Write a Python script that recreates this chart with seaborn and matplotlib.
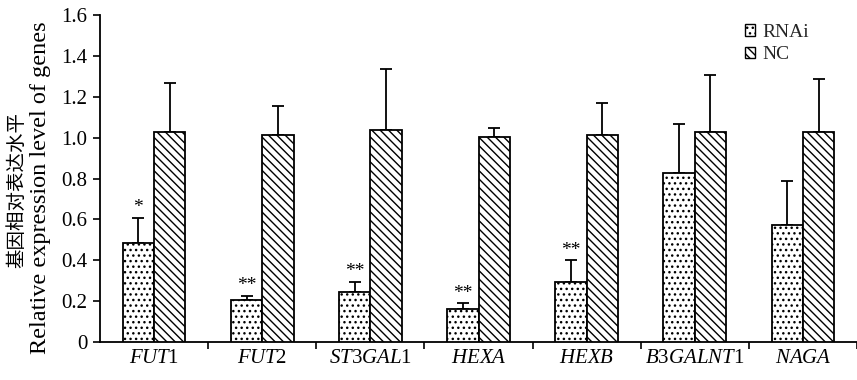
import numpy as np
import pandas as pd
import matplotlib
matplotlib.use("Agg")
import matplotlib.pyplot as plt
from matplotlib.container import BarContainer
import seaborn as sns

genes = ["FUT1", "FUT2", "ST3GAL1", "HEXA", "HEXB", "B3GALNT1", "NAGA"]
gene_labels = [r"$\mathit{FUT}$1", r"$\mathit{FUT}$2", r"$\mathit{ST3GAL}$1",
               r"$\mathit{HEXA}$", r"$\mathit{HEXB}$", r"$\mathit{B3GALNT}$1",
               r"$\mathit{NAGA}$"]
groups = ["RNAi", "NC"]
rnai_mean = [0.485, 0.205, 0.245, 0.160, 0.294, 0.827, 0.572]
rnai_err = [0.122, 0.020, 0.049, 0.030, 0.106, 0.240, 0.216]
nc_mean = [1.027, 1.013, 1.035, 1.003, 1.013, 1.027, 1.027]
nc_err = [0.240, 0.142, 0.300, 0.044, 0.157, 0.279, 0.260]
signif = ["*", "**", "**", "**", "**", "", ""]
yticks = [0, 0.2, 0.4, 0.6, 0.8, 1.0, 1.2, 1.4, 1.6]
ytick_labels = ["0", "0.2", "0.4", "0.6", "0.8", "1.0", "1.2", "1.4", "1.6"]
ylabel_cn = "基因相对表达水平"
ylabel_en = "Relative expression level of genes"

sns.set_theme(style="white")
plt.rcParams["font.family"] = ["Liberation Serif", "Noto Sans CJK SC", "DejaVu Sans"]
plt.rcParams["mathtext.fontset"] = "custom"
plt.rcParams["mathtext.rm"] = "Liberation Serif"
plt.rcParams["mathtext.it"] = "Liberation Serif:italic"
plt.rcParams["hatch.linewidth"] = 1.0
plt.rcParams["hatch.color"] = "black"

df = pd.DataFrame({
    "gene": genes * 2,
    "group": ["RNAi"] * len(genes) + ["NC"] * len(genes),
    "value": rnai_mean + nc_mean,
})

fig = plt.figure(figsize=(8.57, 3.8), dpi=100)
ax = fig.add_axes([100 / 857, 38 / 380, 757 / 857, 327 / 380])

sns.barplot(data=df, x="gene", y="value", hue="group", order=genes,
            hue_order=groups, palette=["white", "white"], width=0.58,
            errorbar=None, edgecolor="black", linewidth=1.3, ax=ax, zorder=3)

hatches = ["...", "\\\\\\\\"]
errs = [rnai_err, nc_err]
means = [rnai_mean, nc_mean]
bar_conts = [c for c in ax.containers if isinstance(c, BarContainer)]
for ci, cont in enumerate(bar_conts):
    xs = []
    for bar in cont:
        bar.set_hatch(hatches[ci])
        bar.set_facecolor("white")
        bar.set_edgecolor("black")
        xs.append(bar.get_x() + bar.get_width() / 2)
    ax.errorbar(xs, means[ci], yerr=[np.zeros(len(xs)), errs[ci]], fmt="none",
                ecolor="black", elinewidth=1.3, capsize=4, capthick=1.3, zorder=2)
    if ci == 0:
        for x, m, e, s in zip(xs, means[ci], errs[ci], signif):
            if s:
                ax.text(x, m + e + 0.008, s, ha="center", va="bottom",
                        fontsize=14, color="black")

ax.set_ylim(0, 1.6)
ax.set_xlim(-0.5, 6.46)
ax.set_yticks(yticks)
ax.set_yticklabels(ytick_labels)
ax.set_xticks(np.arange(len(genes)) + 0.5)
ax.set_xticklabels([])
ax.set_xticks(np.arange(len(genes)), minor=True)
ax.set_xticklabels(gene_labels, minor=True)
ax.tick_params(axis="x", which="major", direction="out", length=5, width=1.2,
               color="black", bottom=True)
ax.tick_params(axis="x", which="minor", length=0, pad=5, labelsize=15,
               labelcolor="black")
ax.tick_params(axis="y", direction="out", length=5, width=1.2, color="black",
               left=True, labelsize=15, labelcolor="black", pad=4)
for side in ["top", "right"]:
    ax.spines[side].set_visible(False)
for side in ["left", "bottom"]:
    ax.spines[side].set_color("black")
    ax.spines[side].set_linewidth(1.3)
ax.set_xlabel("")
ax.set_ylabel("")

fig.text(17 / 857, 1 - 190 / 380, ylabel_cn, rotation=90, ha="center",
         va="center", fontsize=14, color="black")
fig.text(41 / 857, 1 - 188 / 380, ylabel_en, rotation=90, ha="center",
         va="center", fontsize=17.5, color="black")

handles, labels = ax.get_legend_handles_labels()
for h, hat in zip(handles, hatches):
    h.set_hatch(hat)
    h.set_facecolor("white")
    h.set_edgecolor("black")
    h.set_linewidth(1.0)
ax.legend(handles, labels, loc="upper left",
          bbox_to_anchor=(731 / 857, 1 - 10 / 380),
          bbox_transform=fig.transFigure,
          frameon=False, fontsize=14, handlelength=0.55, handleheight=0.55,
          handletextpad=0.35, labelspacing=0.3, borderpad=0.2)

fig.savefig("out.png", dpi=100)
